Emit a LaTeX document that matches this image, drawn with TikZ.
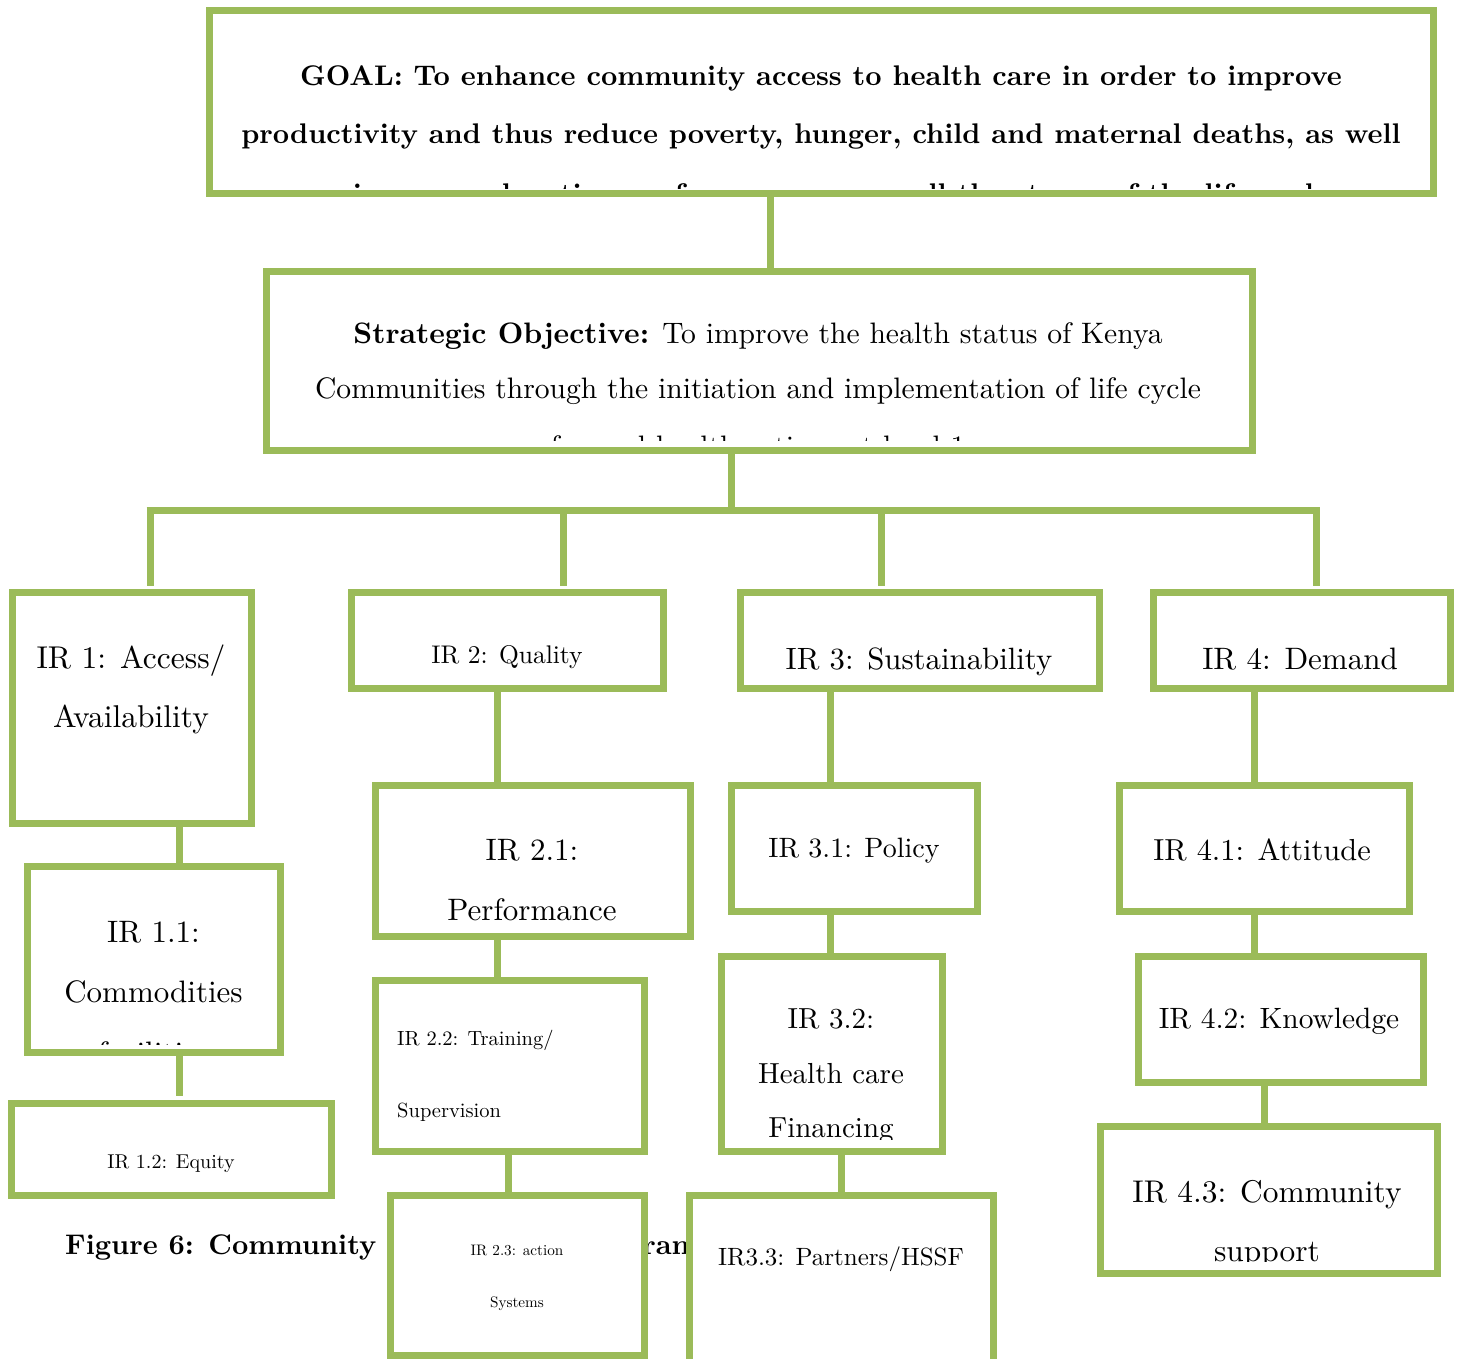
\documentclass[tikz,border=0pt]{standalone}
\usepackage{fontspec}
\setmainfont{lmroman10-regular}[Extension=.otf, BoldFont=lmroman10-bold]
\definecolor{acc}{HTML}{9BBB59}
\tikzset{
  bxs/.style={draw=acc, line width=7pt, fill=white, inner sep=0pt, rectangle},
  conn/.style={draw=acc, line width=7pt},
  tl/.style={anchor=base, inner sep=0pt, text=black},
  fsz/.style={font=\fontsize{#1}{#1}\selectfont},
  fszb/.style={font=\fontsize{#1}{#1}\selectfont\bfseries},
}
\newcommand\mkbox[5]{\node[bxs, minimum width={(#4-#2)*1pt}, minimum height={(#5-#3)*1pt}] (#1) at ({(#2+#4)/2},{(#3+#5)/2}) {};}
\begin{document}
\begin{tikzpicture}[x=1pt,y=-1pt]
\clip (0,0) rectangle (1458,1358);
\useasboundingbox (0,0) rectangle (1458,1358);
% caption (partly hidden behind boxes, as in the reference)
\node[tl, fszb=28.4, anchor=base west] (cap) at (65,1254) {Figure 6: Community Strategy Results\kern-11pt{} Framework};
% connector coordinates
\coordinate (cg) at (770,0);
\coordinate (cs) at (731,0);
\coordinate (busL) at (146.5,510);
\coordinate (busR) at (1319.5,510);
\coordinate (busM) at (731,510);
\coordinate (d1) at (150,510);
\coordinate (d2) at (563,510);
\coordinate (d3) at (881,510);
\coordinate (d4) at (1316,510);
\coordinate (k1) at (179,0);
\coordinate (k2) at (497,0);
\coordinate (k2b) at (508,0);
\coordinate (k3) at (830,0);
\coordinate (k3b) at (841,0);
\coordinate (k4) at (1254,0);
\coordinate (k4b) at (1264,0);
% boxes
\mkbox{goal}{209}{10}{1433}{193}
\mkbox{so}{266}{271}{1252}{450}
\mkbox{ir1}{12}{592.5}{251}{823}
\mkbox{ir2}{351}{592.5}{663}{688}
\mkbox{ir3}{740}{592.5}{1099}{688}
\mkbox{ir4}{1153}{592.5}{1450}{688}
\mkbox{ir21}{375}{785}{690}{936}
\mkbox{ir31}{731}{785}{977}{911}
\mkbox{ir41}{1119}{785}{1409}{911}
\mkbox{ir11}{27}{866}{280}{1052}
\mkbox{ir22}{375}{980}{644}{1151}
\mkbox{ir32}{721}{956}{942}{1151}
\mkbox{ir42}{1138}{956}{1423}{1082}
\mkbox{ir12}{11}{1103}{331}{1195}
\mkbox{ir23}{390}{1195}{644}{1355}
\mkbox{ir33}{689.5}{1195}{993}{1380}
\mkbox{ir43}{1100}{1126}{1437}{1273}
% connectors
\draw[conn] (goal.south -| cg) -- (so.north -| cg);
\draw[conn] (so.south -| cs) -- (busM);
\draw[conn] (busL) -- (busR);
\draw[conn, shorten >=3pt] (d1) -- (ir1.north -| d1);
\draw[conn, shorten >=3pt] (d2) -- (ir2.north -| d2);
\draw[conn, shorten >=3pt] (d3) -- (ir3.north -| d3);
\draw[conn, shorten >=3pt] (d4) -- (ir4.north -| d4);
\draw[conn] (ir1.south -| k1) -- (ir11.north -| k1);
\draw[conn, shorten >=4pt] (ir11.south -| k1) -- (ir12.north -| k1);
\draw[conn] (ir2.south -| k2) -- (ir21.north -| k2);
\draw[conn] (ir21.south -| k2) -- (ir22.north -| k2);
\draw[conn] (ir22.south -| k2b) -- (ir23.north -| k2b);
\draw[conn] (ir3.south -| k3) -- (ir31.north -| k3);
\draw[conn] (ir31.south -| k3) -- (ir32.north -| k3);
\draw[conn] (ir32.south -| k3b) -- (ir33.north -| k3b);
\draw[conn] (ir4.south -| k4) -- (ir41.north -| k4);
\draw[conn] (ir41.south -| k4) -- (ir42.north -| k4);
\draw[conn] (ir42.south -| k4b) -- (ir43.north -| k4b);
% texts
\begin{scope}
\clip (212,13) rectangle (1430,188);
\node[tl, fszb=28.4] (g1) at (821,85) {GOAL: To enhance community access to health care in order to improve};
\node[tl, fszb=28.4] (g2) at (821,143) {productivity and thus reduce poverty, hunger, child and maternal deaths, as well};
\node[tl, fszb=28.4] (g3) at (821,203) {as improve education performance across all the stages of the life cycle};
\end{scope}
\begin{scope}
\clip (270,274) rectangle (1248,440);
\node[tl, fsz=29.6] (s1) at (758,343) {\textbf{Strategic Objective:} To improve the health status of Kenya};
\node[tl, fsz=29.6] (s2) at (758,398) {Communities through the initiation and implementation of life cycle};
\node[tl, fsz=29.6] (s3) at (758,456) {focused health actions at level 1};
\end{scope}
\node[tl, fsz=31.5] (t1a) at (131,668) {IR 1: Access/};
\node[tl, fsz=31.5] (t1b) at (131,727) {Availability};
\node[tl, fsz=25.5] (t2) at (507,663) {IR 2: Quality};
\node[tl, fsz=30.8] (t3) at (919,669) {IR 3: Sustainability};
\node[tl, fsz=31] (t4) at (1300,669) {IR 4: Demand};
\node[tl, fsz=31] (t21a) at (532,860) {IR 2.1:};
\node[tl, fsz=31] (t21b) at (532,920) {Performance};
\node[tl, fsz=28] (t31) at (854,857) {IR 3.1: Policy};
\node[tl, fsz=30.4] (t41) at (1262,860) {IR 4.1: Attitude};
\begin{scope}
\clip (30,869) rectangle (277,1044);
\node[tl, fsz=31] (t11a) at (153.5,942) {IR 1.1:};
\node[tl, fsz=31] (t11b) at (153.5,1002) {Commodities};
\node[tl, fsz=31] (t11c) at (153.5,1063) {facilities};
\end{scope}
\node[tl, fsz=20] (t12) at (171,1168) {IR 1.2: Equity};
\node[tl, fsz=20.5, anchor=base west] (t22a) at (397,1045) {IR 2.2: Training/};
\node[tl, fsz=20.5, anchor=base west] (t22b) at (397,1117) {Supervision};
\node[tl, fsz=15.2] (t23a) at (517,1255) {IR 2.3: action};
\node[tl, fsz=15.2] (t23b) at (517,1307) {Systems};
\begin{scope}
\clip (724,959) rectangle (939,1139);
\node[tl, fsz=29] (t32a) at (831,1028) {IR 3.2:};
\node[tl, fsz=29] (t32b) at (831,1083) {Health care};
\node[tl, fsz=29] (t32c) at (831,1137) {Financing};
\end{scope}
\node[tl, fsz=25] (t33) at (841,1265) {IR3.3: Partners/HSSF};
\node[tl, fsz=29.4] (t42) at (1279,1028) {IR 4.2: Knowledge};
\begin{scope}
\clip (1103,1129) rectangle (1434,1261);
\node[tl, fsz=31.4] (t43a) at (1267,1202) {IR 4.3: Community};
\node[tl, fsz=31.4] (t43b) at (1267,1261) {support};
\end{scope}
\end{tikzpicture}
\end{document}
